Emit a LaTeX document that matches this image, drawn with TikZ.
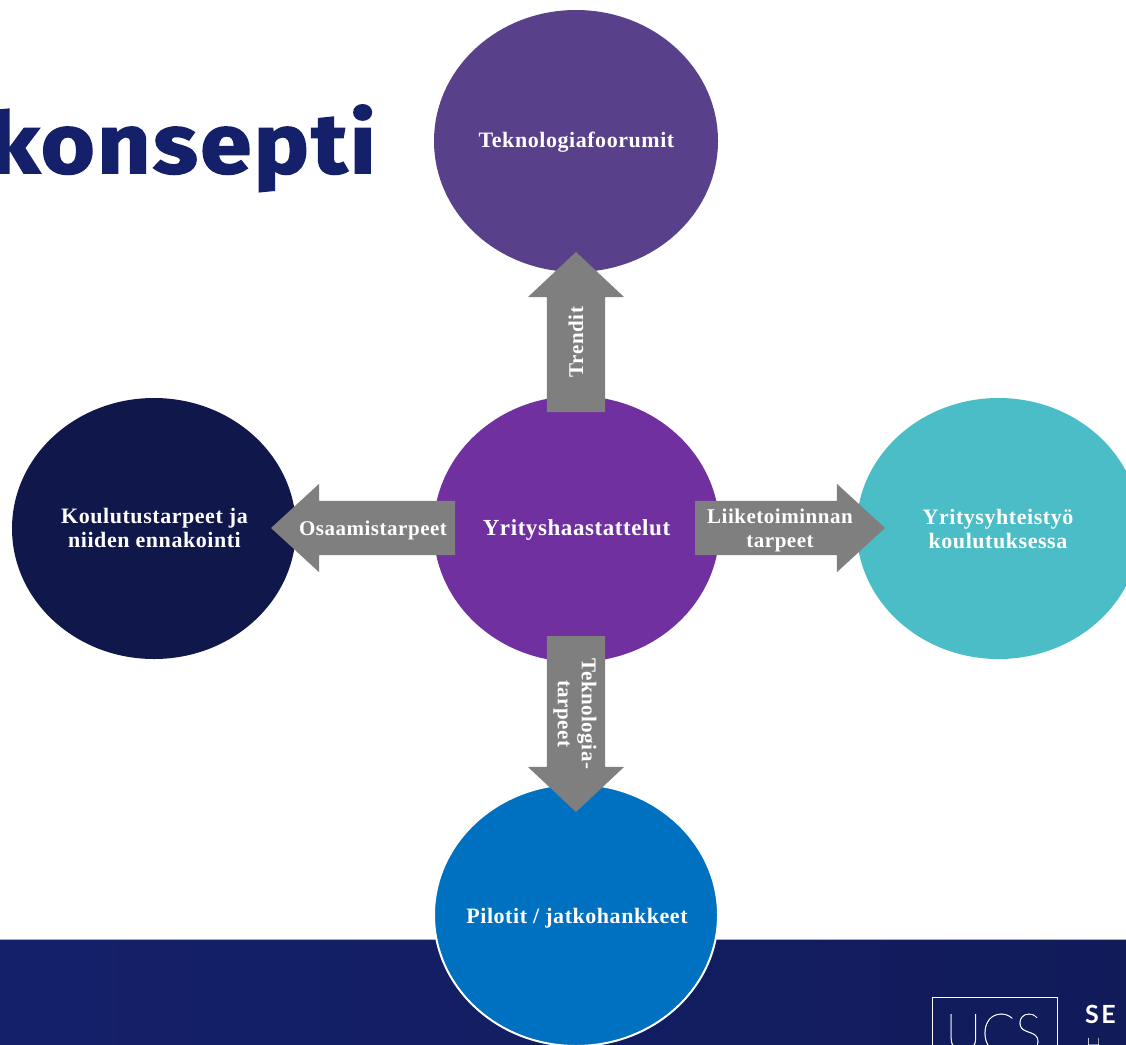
\documentclass[tikz,border=0pt]{standalone}
\usepackage{fontspec}
\setmainfont[LetterSpace=2.5]{Liberation Serif}
\newfontfamily\titlefont[LetterSpace=3,FakeBold=2,FakeStretch=1.1]{Fira Sans}
\newfontfamily\logofont[FakeBold=0.6]{Lato Hairline}
\newfontfamily\sefont[LetterSpace=10]{Lato}
\usetikzlibrary{shapes.geometric,shapes.arrows}
\definecolor{navy}{HTML}{14206A}
\definecolor{gbar}{HTML}{7F7F7F}
\tikzset{
  circ/.style={ellipse,inner sep=0pt,outer sep=0pt,minimum width=#1},
  lab/.style={text=white,font=\bfseries\fontsize{21}{24}\selectfont,align=center,inner sep=0pt},
  biglab/.style={lab,font=\bfseries\fontsize{22}{24}\selectfont},
  blockarrow/.style={single arrow,fill=gbar,outer sep=0pt,anchor=tip,
    minimum height=#1,single arrow head indent=0pt},
  vertarrow/.style={blockarrow=#1,inner xsep=29pt,inner ysep=0pt,single arrow head extend=19pt,single arrow tip angle=93.7},
  horizarrow/.style={blockarrow=#1,inner ysep=27pt,inner xsep=0pt,single arrow head extend=17pt,single arrow tip angle=85.1},
}
\begin{document}
\begin{tikzpicture}[x=1pt,y=-1pt]
\useasboundingbox (0,0) rectangle (1126,1044);
\fill[white] (0,0) rectangle (1126,1044);
% banner
\shade[left color=navy,right color=navy!85!black] (0,940) rectangle (1126,1044);
\draw[black!30,line width=0.8pt] (0,939.5) -- (1126,939.5);
% title
\node[anchor=base east,inner sep=0pt,text=navy,font=\titlefont\bfseries\fontsize{84}{84}\selectfont] (title) at (376,173) {konsepti};
% logo
\node[draw=white,line width=1pt,minimum width=125pt,minimum height=70pt,inner sep=0pt,anchor=north west] (logobox) at (931.5,996.5) {};
\node[anchor=base,text=white,inner sep=0pt,font=\logofont\fontsize{54}{54}\selectfont,xscale=.92] (ucs) at (993.5,1052) {UCS};
\node[anchor=base west,text=white,inner sep=0pt,font=\sefont\bfseries\fontsize{25}{25}\selectfont] (se) at (1085,1023) {SE};
\node[anchor=base west,text=white,inner sep=0pt,font=\logofont\fontsize{20}{20}\selectfont] (se2) at (1086,1052) {H};
% circles
\node[circ=284pt,minimum height=262pt,fill={rgb,255:red,0;green,112;blue,192},draw=white,line width=2pt] (pilot) at (576,915) {};
\node[circ=284pt,minimum height=262pt,fill={rgb,255:red,88;green,64;blue,138}] (forum) at (576,141) {};
\node[circ=286pt,minimum height=266pt,fill={rgb,255:red,112;green,48;blue,160}] (haast) at (576.5,529) {};
\node[circ=284pt,minimum height=261pt,fill={rgb,255:red,15;green,23;blue,75}] (koulutus) at (154,528.5) {};
\node[circ=284pt,minimum height=261pt,fill={rgb,255:red,75;green,189;blue,199}] (yhteis) at (998.5,528.5) {};
% arrows
\node[vertarrow=160pt,shape border rotate=90] (atop) at (576,252) {};
\node[vertarrow=176pt,shape border rotate=270] (abot) at (576,812) {};
\node[horizarrow=184pt,shape border rotate=180] (aleft) at (271,528) {};
\node[horizarrow=190pt,shape border rotate=0] (aright) at (885,528) {};
% labels
\node[biglab] at (576.5,142.5) {Teknologiafoorumit};
\node[biglab,font=\bfseries\fontsize{23}{24}\selectfont] at (576.5,529.5) {Yrityshaastattelut};
\node[biglab] at (154.5,527.5) {Koulutustarpeet ja\\niiden ennakointi};
\node[biglab] at (998,528.5) {Yritysyhteistyö\\koulutuksessa};
\node[biglab] at (577,918.5) {Pilotit / jatkohankkeet};
\node[lab] at (373,530) {Osaamistarpeet};
\node[lab] at (780,530) {Liiketoiminnan\\tarpeet};
\node[lab,rotate=90] at (576,342) {Trendit};
\node[lab,rotate=-90] at (575,714) {Teknologia-\\tarpeet};
\end{tikzpicture}
\end{document}
